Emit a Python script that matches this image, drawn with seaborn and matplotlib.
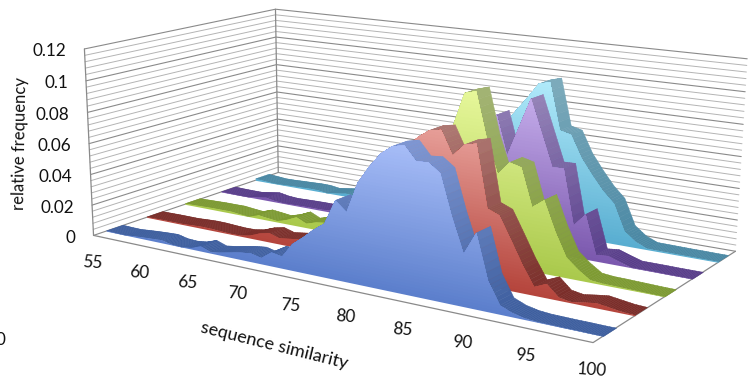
import numpy as np
import matplotlib
matplotlib.use("Agg")
import matplotlib.pyplot as plt
import seaborn as sns
from mpl_toolkits.mplot3d.art3d import Poly3DCollection

# Relative frequency per sequence-similarity value, front row to back row
similarity = list(range(55, 101))
series_a = [.0005,.0003,.0002,.0008,.0013,.0017,.0020,.0005,.0002,.0010,.0033,.0010,.0020,.0034,.0047,.0055,.0040,.0088,.0076,
            .0166,.0220,.0280,.0330,.0481,.0423,.0608,.0713,.0800,.0853,.0869,.0788,.0794,.0743,.0507,.0308,.0440,.0182,.0054,
            .0025,.0010,.0004,.0003,.0002,.0002,.0001,.0001]
series_b = [.0006,.0007,.0008,.0008,.0008,.0012,.0015,.0014,.0010,.0007,.0008,.0020,.0046,.0060,.0040,.0050,.0060,.0080,.0110,
            .0160,.0220,.0300,.0400,.0500,.0580,.0660,.0750,.0820,.0870,.0883,.0742,.0816,.0833,.0464,.0436,.0305,.0170,.0053,
            .0085,.0020,.0008,.0020,.0030,.0020,.0010,.0006]
series_c = [.0008,.0010,.0012,.0014,.0014,.0015,.0008,.0002,.0025,.0018,.0010,.0030,.0060,.0030,.0050,.0060,.0080,.0110,.0150,
            .0210,.0280,.0360,.0450,.0540,.0620,.0690,.0760,.0810,.1022,.1042,.0763,.0561,.0642,.0624,.0394,.0448,.0270,.0125,
            .0065,.0017,.0010,.0009,.0007,.0005,.0003,.0002]
series_d = [.0005,.0003,.0002,.0002,.0012,.0022,.0010,.0005,.0007,.0009,.0010,.0010,.0015,.0020,.0030,.0040,.0050,.0070,.0100,
            .0140,.0190,.0250,.0320,.0400,.0500,.0600,.0700,.0750,.0820,.0574,.0760,.0947,.0745,.0544,.0546,.0202,.0283,.0041,
            .0049,.0025,.0003,.0003,.0003,.0002,.0002,.0002]
series_e = [.0015,.0010,.0004,.0005,.0008,.0010,.0013,.0012,.0002,.0012,.0022,.0020,.0020,.0030,.0040,.0050,.0060,.0080,.0110,
            .0150,.0200,.0260,.0340,.0430,.0520,.0600,.0672,.0770,.0860,.0958,.0978,.0678,.0660,.0520,.0420,.0330,.0260,.0095,
            .0040,.0010,.0009,.0008,.0007,.0007,.0006,.0006]
rows = [series_a, series_b, series_c, series_d, series_e]

# Gradient stops for each row: front face (low, high) and the extruded top (low, high)
front_stops = [("#5c7fcc", "#a6bcf7"), ("#b5453c", "#e69d97"), ("#aac94c", "#e6f79a"),
               ("#7b58ae", "#c3abe9"), ("#59aed1", "#b0eafa")]
top_stops = [("#3e5f9f", "#7e96d2"), ("#7a2d29", "#ad7772"), ("#7d9a32", "#a3b474"),
             ("#593e8a", "#9483b7"), ("#4a88a4", "#7dabbb")]

y_ticks = [0, 0.02, 0.04, 0.06, 0.08, 0.1, 0.12]
y_tick_labels = ["0", "0.02", "0.04", "0.06", "0.08", "0.1", "0.12"]
minor_step = 0.004
x_ticks = list(range(55, 101, 5))
Y_MAX = 0.12

sns.set_theme(style="white")
plt.rcParams["font.family"] = ["Lato", "DejaVu Sans"]

W, H = 754, 378
fig = plt.figure(figsize=(W / 100, H / 100), dpi=100)
ax = fig.add_axes([0, 0, 1, 1], projection="3d", computed_zorder=False)
ax.apply_aspect = lambda position=None: None
ax.set_axis_off()
ax.set_xlim(55, 100)
ax.set_ylim(0, 1)
ax.set_zlim(0, Y_MAX)

# Camera: a pinhole projection solved from the box corners, in figure pixels
box_corners = [(0, 0, 0), (0, 0, 1), (0, 1, 0), (0, 1, 1), (1, 0, 0), (1, 1, 0), (1, 1, 1)]
box_pixels = [(94, 235), (84, 49), (277.7, 173), (276, 9), (593, 343), (735.7, 250.7), (747, 59)]
eqs = []
for (a, b, c), (u, v) in zip(box_corners, box_pixels):
    eqs.append([a, b, c, 1, 0, 0, 0, 0, -u * a, -u * b, -u * c, -u])
    eqs.append([0, 0, 0, 0, a, b, c, 1, -v * a, -v * b, -v * c, -v])
camera = np.linalg.svd(np.array(eqs))[2][-1].reshape(3, 4)
unit_scale = np.array([[1 / 45, 0, 0, -55 / 45], [0, 1, 0, 0], [0, 0, 1 / Y_MAX, 0], [0, 0, 0, 1]])
camera = camera @ unit_scale


def project(cat, depth, val):
    p = camera @ np.array([cat, depth, val, 1.0])
    return p[0] / p[2], p[1] / p[2]


def camera_matrix():
    to_display = np.array([[1, 0, 0], [0, -1, H], [0, 0, 1.0]])
    P = ax.transData.inverted().get_matrix() @ to_display @ camera
    return np.vstack([P[0], P[1], [0, 1, 0, 0], P[2]])


ax.get_proj = camera_matrix


def add_poly(verts, color, z, edge=0.35):
    poly = Poly3DCollection([verts], facecolors=[color], edgecolors=[color], linewidths=edge, zorder=z)
    poly.set_clip_on(False)
    ax.add_collection3d(poly)


# Walls: minor and major gridlines wrap around the left and the back wall
levels = np.arange(0, 31) * minor_step
for i, lev in enumerate(levels):
    major = i % 5 == 0
    line = ax.plot([55, 55, 100], [0, 1, 1], [lev, lev, lev], color="#8a8a8a" if major else "#b4b4b4",
                   lw=0.8 if major else 0.7, zorder=1)[0]
    line.set_clip_on(False)
for cx, cy, cz in [([55, 55], [0, 0], [0, Y_MAX]), ([55, 55], [1, 1], [0, Y_MAX]), ([55, 100, 100], [0, 0, 1], [0, 0, 0])]:
    ax.plot(cx, cy, cz, color="#8a8a8a", lw=0.9, zorder=1)[0].set_clip_on(False)

# Rows of 3-D areas, painted from the back row to the front row
N_BANDS = 50
cats = np.array(similarity, dtype=float)
order = 10
for idx in range(len(rows) - 1, -1, -1):
    vals = np.array(rows[idx])
    near, far = (idx + 0.5) / len(rows) - 0.04, (idx + 0.5) / len(rows) + 0.04
    peak = vals.max()
    front_pal = sns.blend_palette(front_stops[idx], N_BANDS)
    top_pal = sns.blend_palette(top_stops[idx], N_BANDS)

    # extruded top surface, left to right, shaded by height
    for i in range(len(cats) - 1):
        steps = np.linspace(0, 1, 7)
        sx = cats[i] + steps * (cats[i + 1] - cats[i])
        sy = vals[i] + steps * (vals[i + 1] - vals[i])
        for j in range(len(steps) - 1):
            shade = top_pal[min(int(0.5 * (sy[j] + sy[j + 1]) / peak * N_BANDS), N_BANDS - 1)]
            add_poly([(sx[j], near, sy[j]), (sx[j + 1], near, sy[j + 1]),
                      (sx[j + 1], far, sy[j + 1]), (sx[j], far, sy[j])], shade, order)
            order += 1

    # front face: each gradient step paints everything above its level over the previous step
    edges = np.linspace(0, peak, N_BANDS + 1)
    for b in range(N_BANDS):
        lo = edges[b]
        xs = set(cats.tolist())
        for i in range(len(cats) - 1):
            v0, v1 = vals[i], vals[i + 1]
            if (v0 - lo) * (v1 - lo) < 0:
                xs.add(cats[i] + (lo - v0) / (v1 - v0))
        xs = np.array(sorted(xs))
        ys = np.interp(xs, cats, vals)
        run = []
        for i in range(len(xs) - 1):
            if 0.5 * (ys[i] + ys[i + 1]) > lo:
                run.append(i)
            if run and (i == len(xs) - 2 or 0.5 * (ys[i + 1] + ys[i + 2]) <= lo):
                ids = run + [run[-1] + 1]
                top = [(xs[k], near, ys[k]) for k in ids]
                base = [(xs[k], near, lo) for k in reversed(ids)]
                add_poly(top + base, front_pal[b], order, edge=0)
                order += 1
                run = []

# Tick labels follow the projected axes
for tick, text in zip(y_ticks, y_tick_labels):
    u, v = project(55, 0, tick)
    fig.text((u - 18) / W, 1 - (v + 2.5) / H, text, ha="right", va="center", fontsize=12.3, color="#111111")
for tick in x_ticks:
    u, v = project(tick, 0, 0)
    fig.text((u - 1) / W, 1 - (v + 27.5) / H, str(tick), ha="center", va="center", fontsize=12.3,
             color="#111111", rotation=-4)

fig.text(20 / W, 1 - 143 / H, "relative frequency", rotation=89, ha="center", va="center", fontsize=12, color="#111111")
fig.text(274 / W, 1 - 346 / H, "sequence similarity", rotation=-14, ha="center", va="center",
         rotation_mode="anchor", fontsize=13, color="#111111")
fig.text(-5 / W, 1 - 340 / H, "0", ha="left", va="center", fontsize=12.3, color="#111111")

fig.savefig("out.png", dpi=100, facecolor="white")
